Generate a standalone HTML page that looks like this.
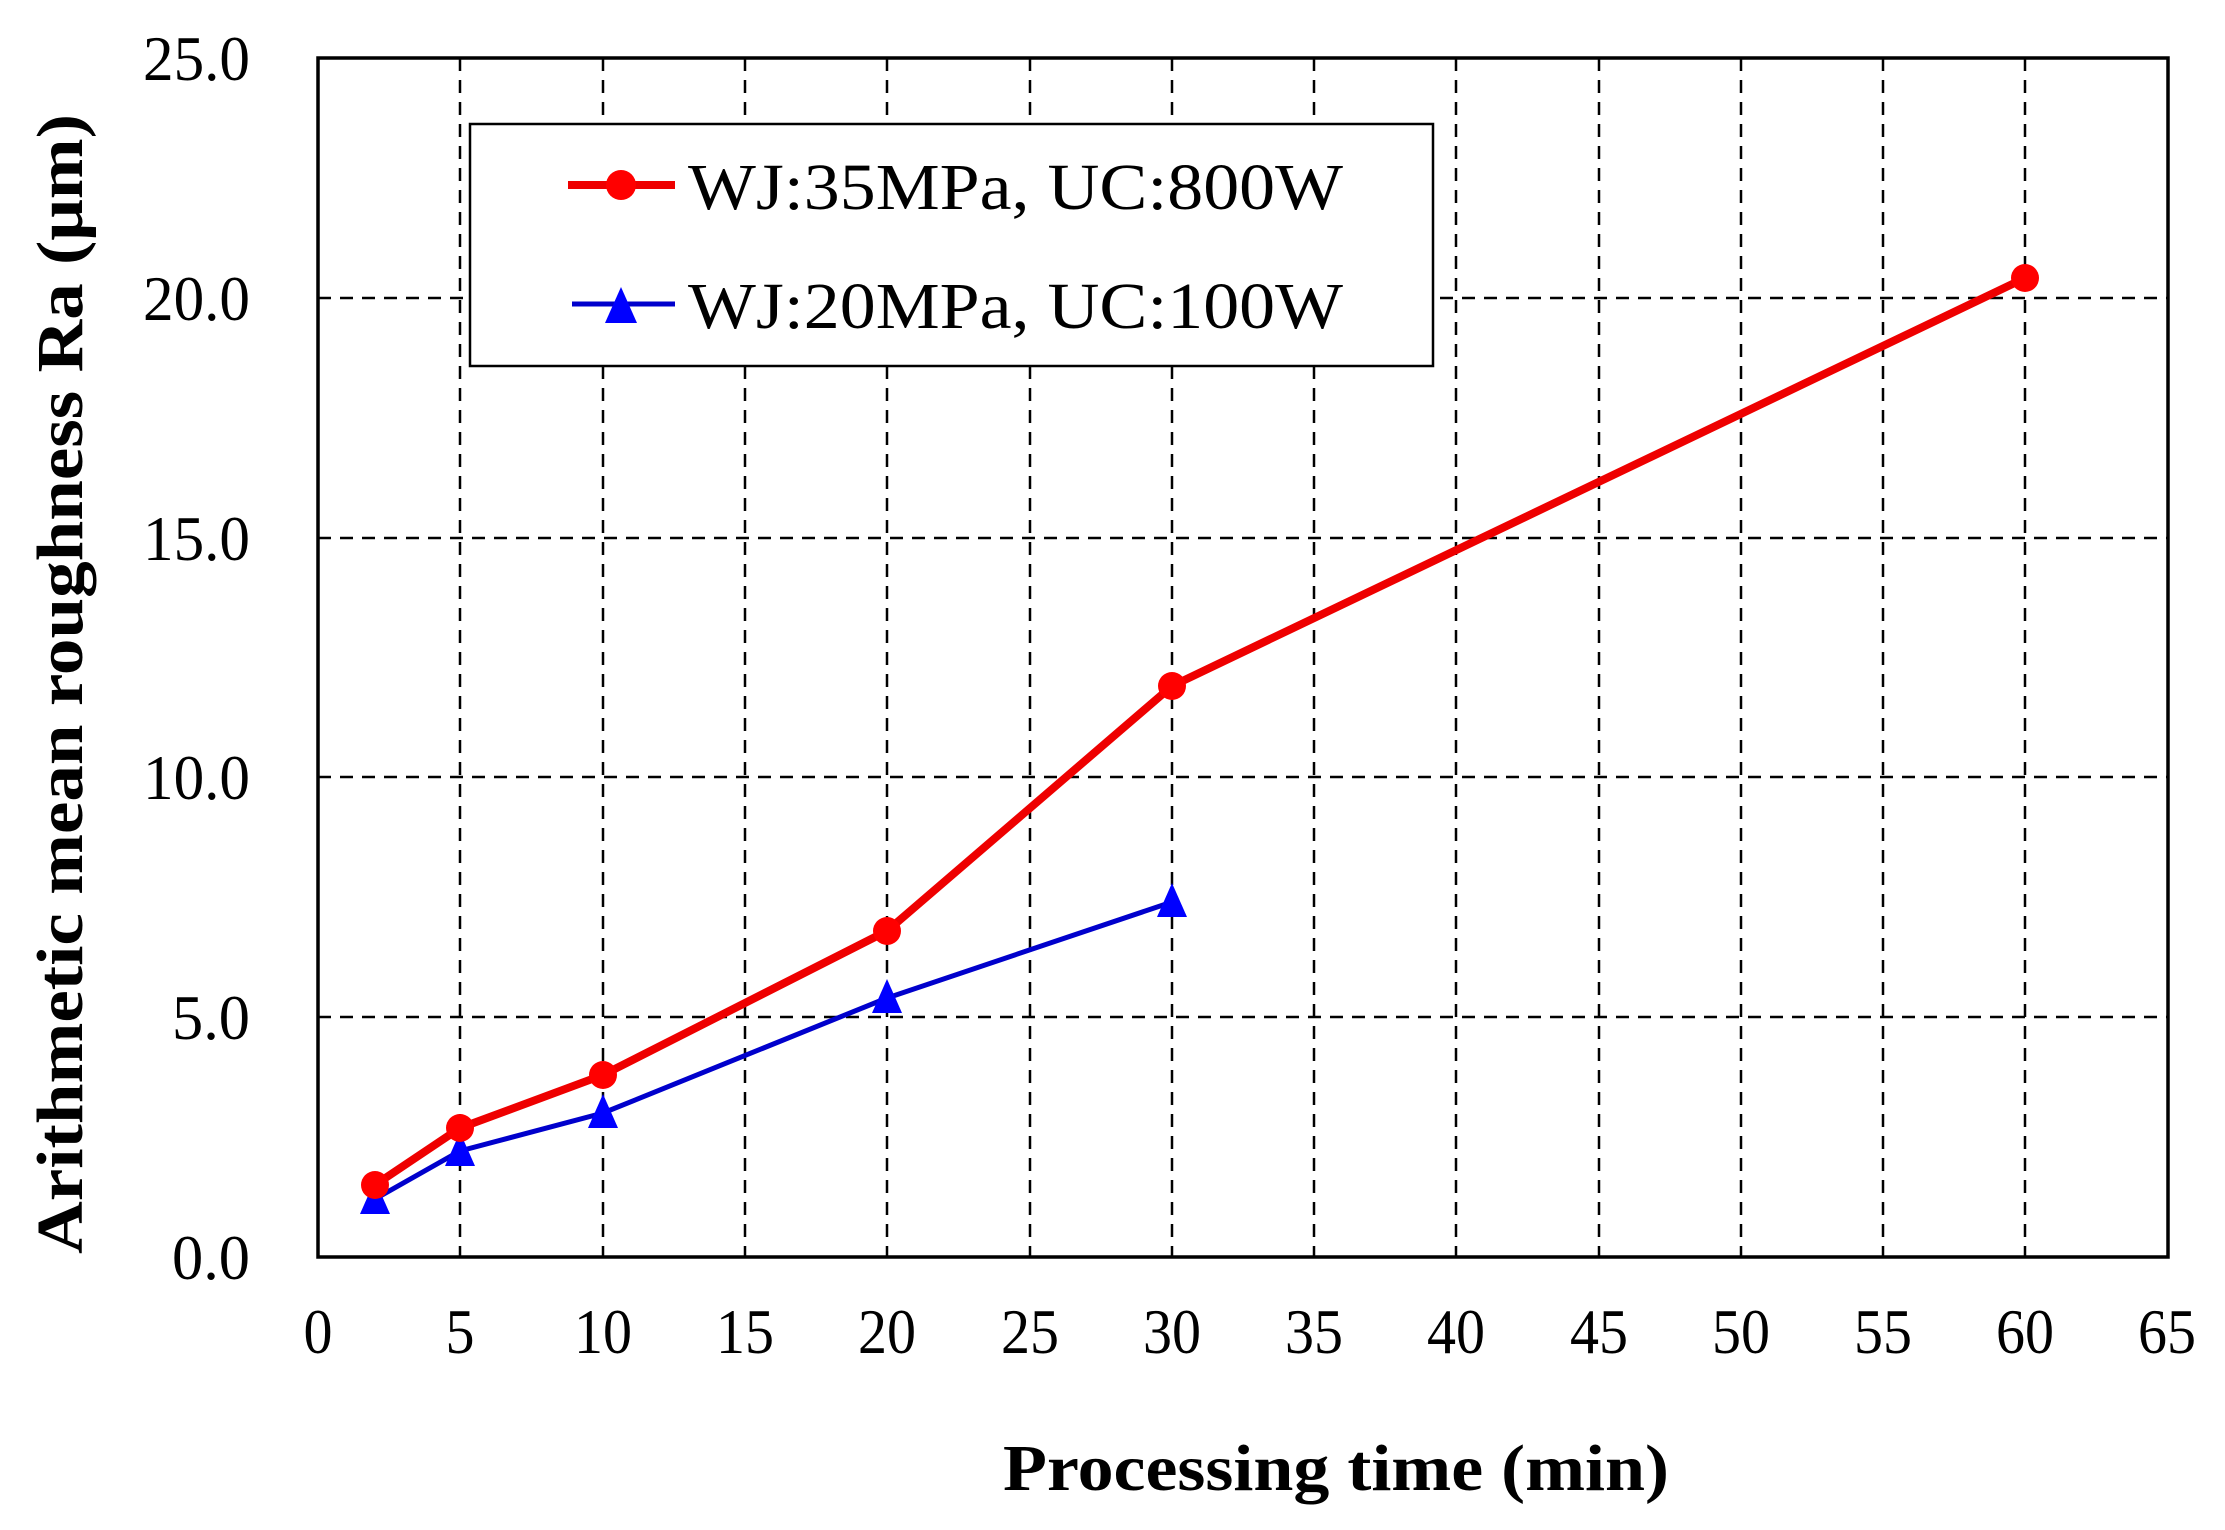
<!DOCTYPE html>
<html><head><meta charset="utf-8"><style>html,body{margin:0;padding:0;background:#fff}</style></head>
<body>
<svg width="2225" height="1525" viewBox="0 0 2225 1525" xmlns="http://www.w3.org/2000/svg" font-family="Liberation Serif, serif">
<rect width="2225" height="1525" fill="#fff"/>
<g stroke="#000" stroke-width="2.5" stroke-dasharray="13,9">
<line x1="318" y1="298" x2="2168" y2="298"/>
<line x1="318" y1="538" x2="2168" y2="538"/>
<line x1="318" y1="777" x2="2168" y2="777"/>
<line x1="318" y1="1017" x2="2168" y2="1017"/>
<line x1="460" y1="58" x2="460" y2="1257"/>
<line x1="603" y1="58" x2="603" y2="1257"/>
<line x1="745" y1="58" x2="745" y2="1257"/>
<line x1="887" y1="58" x2="887" y2="1257"/>
<line x1="1030" y1="58" x2="1030" y2="1257"/>
<line x1="1172" y1="58" x2="1172" y2="1257"/>
<line x1="1314" y1="58" x2="1314" y2="1257"/>
<line x1="1456" y1="58" x2="1456" y2="1257"/>
<line x1="1599" y1="58" x2="1599" y2="1257"/>
<line x1="1741" y1="58" x2="1741" y2="1257"/>
<line x1="1883" y1="58" x2="1883" y2="1257"/>
<line x1="2025" y1="58" x2="2025" y2="1257"/>
</g>
<rect x="318" y="58" width="1850" height="1199" fill="none" stroke="#000" stroke-width="3.5"/>
<rect x="470" y="124" width="963" height="242" fill="#fff" stroke="#000" stroke-width="2.5"/>
<line x1="568" y1="185" x2="675" y2="185" stroke="#e00" stroke-width="8"/>
<circle cx="621" cy="185" r="15" fill="#f00"/>
<text x="688" y="209" font-size="66" textLength="655" lengthAdjust="spacingAndGlyphs">WJ:35MPa, UC:800W</text>
<line x1="572" y1="304" x2="675" y2="304" stroke="#00c" stroke-width="5"/>
<polygon points="621,287 605,323 637,323" fill="#00f"/>
<text x="688" y="328" font-size="66" textLength="655" lengthAdjust="spacingAndGlyphs">WJ:20MPa, UC:100W</text>
<polyline fill="none" stroke="#00c" stroke-width="5" points="375,1199 460,1151 603,1113 887,998 1172,902"/>
<g fill="#00f">
<polygon points="375,1180 360,1214 390,1214"/>
<polygon points="460,1132 445,1166 475,1166"/>
<polygon points="603,1094 588,1128 618,1128"/>
<polygon points="887,979 872,1013 902,1013"/>
<polygon points="1172,883 1157,917 1187,917"/>
</g>
<polyline fill="none" stroke="#e00" stroke-width="8" points="375,1185 460,1128 603,1075 887,931 1172,686 2025,278"/>
<g fill="#f00">
<circle cx="375" cy="1185" r="14"/><circle cx="460" cy="1128" r="14"/><circle cx="603" cy="1075" r="14"/>
<circle cx="887" cy="931" r="14"/><circle cx="1172" cy="686" r="14"/><circle cx="2025" cy="278" r="14"/>
</g>
<g font-size="64" text-anchor="end" lengthAdjust="spacingAndGlyphs">
<text x="250" y="80" textLength="107" lengthAdjust="spacingAndGlyphs">25.0</text>
<text x="250" y="320" textLength="107" lengthAdjust="spacingAndGlyphs">20.0</text>
<text x="250" y="560" textLength="107" lengthAdjust="spacingAndGlyphs">15.0</text>
<text x="250" y="799" textLength="107" lengthAdjust="spacingAndGlyphs">10.0</text>
<text x="250" y="1039" textLength="78" lengthAdjust="spacingAndGlyphs">5.0</text>
<text x="250" y="1279" textLength="78" lengthAdjust="spacingAndGlyphs">0.0</text>
</g>
<g font-size="64" text-anchor="middle">
<text x="318" y="1353" textLength="29" lengthAdjust="spacingAndGlyphs">0</text>
<text x="460" y="1353" textLength="29" lengthAdjust="spacingAndGlyphs">5</text>
<text x="603" y="1353" textLength="58" lengthAdjust="spacingAndGlyphs">10</text>
<text x="745" y="1353" textLength="58" lengthAdjust="spacingAndGlyphs">15</text>
<text x="887" y="1353" textLength="58" lengthAdjust="spacingAndGlyphs">20</text>
<text x="1030" y="1353" textLength="58" lengthAdjust="spacingAndGlyphs">25</text>
<text x="1172" y="1353" textLength="58" lengthAdjust="spacingAndGlyphs">30</text>
<text x="1314" y="1353" textLength="58" lengthAdjust="spacingAndGlyphs">35</text>
<text x="1456" y="1353" textLength="58" lengthAdjust="spacingAndGlyphs">40</text>
<text x="1599" y="1353" textLength="58" lengthAdjust="spacingAndGlyphs">45</text>
<text x="1741" y="1353" textLength="58" lengthAdjust="spacingAndGlyphs">50</text>
<text x="1883" y="1353" textLength="58" lengthAdjust="spacingAndGlyphs">55</text>
<text x="2025" y="1353" textLength="58" lengthAdjust="spacingAndGlyphs">60</text>
<text x="2167" y="1353" textLength="58" lengthAdjust="spacingAndGlyphs">65</text>
</g>
<text x="1336" y="1490" font-size="66" font-weight="bold" text-anchor="middle" textLength="666" lengthAdjust="spacingAndGlyphs">Processing time (min)</text>
<text transform="translate(82,684) rotate(-90)" font-size="66" font-weight="bold" text-anchor="middle" textLength="1140" lengthAdjust="spacingAndGlyphs">Arithmetic  mean roughness Ra (μm)</text>
</svg>
</body></html>
